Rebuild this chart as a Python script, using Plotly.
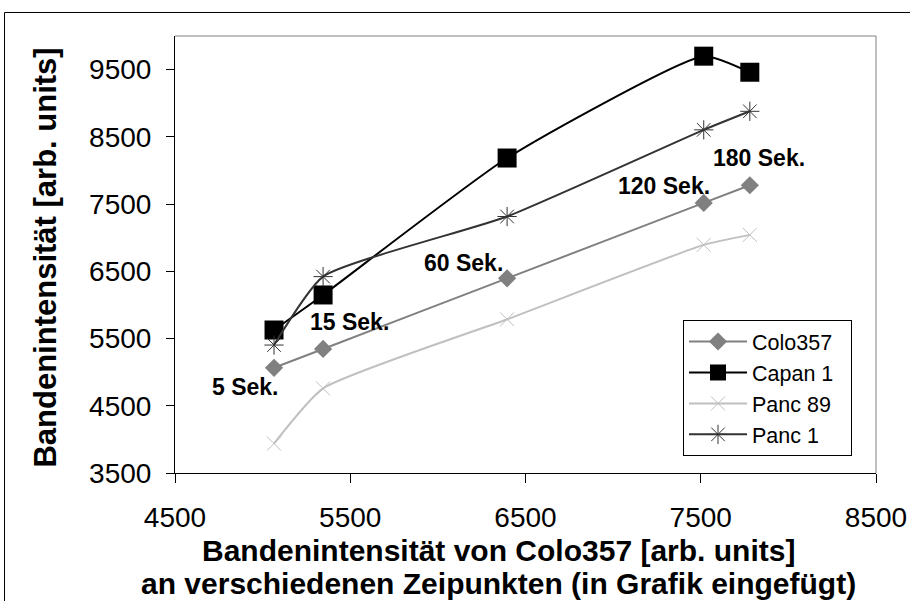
import plotly.graph_objects as go

# Data
x_colo = [5065, 5345, 6395, 7517, 7780]          # Bandenintensität von Colo357
colo357 = [5065, 5345, 6395, 7517, 7780]
capan1 = [5627, 6148, 8185, 9700, 9461]
panc89 = [3938, 4758, 5786, 6893, 7042]
panc1 = [5403, 6421, 7315, 8604, 8880]

series_names = ["Colo357", "Capan 1", "Panc 89", "Panc 1"]

time_labels = ["5 Sek.", "15 Sek.", "60 Sek.", "120 Sek.", "180 Sek."]
label_x = [4901, 5494, 6145, 7288, 7833]
label_y = [4782, 5750, 6625, 7762, 8186]

x_ticks = [4500, 5500, 6500, 7500, 8500]
y_ticks = [3500, 4500, 5500, 6500, 7500, 8500, 9500]

x_title_1 = "Bandenintensität von Colo357 [arb. units]"
x_title_2 = "an verschiedenen Zeipunkten (in Grafik eingefügt)"
y_title = "Bandenintensität [arb. units]"

FONT = "Liberation Sans, Arial, sans-serif"
SMOOTH = 0.5
PAD = "\u00a0\u00a0"  # invisible padding so the legend box matches the reference width

fig = go.Figure()

fig.add_trace(go.Scatter(
    x=x_colo, y=colo357, name=series_names[0] + PAD, mode="lines+markers",
    line=dict(color="#808080", width=2, shape="spline", smoothing=SMOOTH),
    marker=dict(symbol="diamond", size=14, color="#808080")))
fig.add_trace(go.Scatter(
    x=x_colo, y=capan1, name=series_names[1] + PAD, mode="lines+markers",
    line=dict(color="#000000", width=2, shape="spline", smoothing=SMOOTH),
    marker=dict(symbol="square", size=19, color="#000000")))
fig.add_trace(go.Scatter(
    x=x_colo, y=panc89, name=series_names[2] + PAD, mode="lines+markers",
    line=dict(color="#C0C0C0", width=2, shape="spline", smoothing=SMOOTH),
    marker=dict(symbol="x-thin-open", size=14, color="#C0C0C0",
                line=dict(color="#C0C0C0", width=1))))
fig.add_trace(go.Scatter(
    x=x_colo, y=panc1, name=series_names[3] + PAD, mode="lines+markers",
    line=dict(color="#333333", width=2, shape="spline", smoothing=SMOOTH),
    marker=dict(symbol="asterisk-open", size=16, color="#333333",
                line=dict(color="#333333", width=1))))

for t, lx, ly in zip(time_labels, label_x, label_y):
    fig.add_annotation(x=lx, y=ly, text=t, showarrow=False,
                       font=dict(family=FONT, size=23, color="black", weight="bold"))

title_font = dict(family=FONT, size=30, color="black", weight="bold")
fig.add_annotation(xref="paper", yref="paper", x=0.461, y=-0.178, text=x_title_1,
                   showarrow=False, xanchor="center", yanchor="middle", font=title_font)
fig.add_annotation(xref="paper", yref="paper", x=0.461, y=-0.253, text=x_title_2,
                   showarrow=False, xanchor="center", yanchor="middle", font=title_font)
fig.add_annotation(xref="paper", yref="paper", x=-0.184, y=0.493, text=y_title,
                   textangle=-90, showarrow=False, xanchor="center", yanchor="middle",
                   font=dict(family=FONT, size=31, color="black", weight="bold"))

# outer frame
fig.add_shape(type="rect", xref="paper", yref="paper",
              x0=-0.2432, x1=1.06, y0=-0.35, y1=1.0538,
              line=dict(color="black", width=1))
# plot-area top and right borders (gray)
fig.add_shape(type="line", xref="paper", yref="paper", x0=0, x1=1, y0=1, y1=1,
              line=dict(color="#808080", width=1))
fig.add_shape(type="line", xref="paper", yref="paper", x0=1, x1=1, y0=0, y1=1,
              line=dict(color="#808080", width=1))

fig.update_layout(
    width=910, height=601,
    margin=dict(l=175, r=34, t=36, b=128),
    paper_bgcolor="white", plot_bgcolor="white",
    font=dict(family=FONT, color="black"),
    showlegend=True,
    legend=dict(x=0.7247, y=0.350, xanchor="left", yanchor="top",
                bordercolor="black", borderwidth=1, bgcolor="white",
                font=dict(family=FONT, size=21.5, color="black"),
                tracegroupgap=0, itemwidth=58),
    xaxis=dict(range=[4500, 8500], tickvals=x_ticks, ticktext=[str(v) for v in x_ticks],
               showgrid=False, zeroline=False, showline=True, linecolor="black", linewidth=1,
               ticks="outside", ticklen=9, tickcolor="black",
               ticklabelstandoff=10, automargin=False,
               tickfont=dict(family=FONT, size=28, color="black")),
    yaxis=dict(range=[3500, 10000], tickvals=y_ticks, ticktext=[str(v) for v in y_ticks],
               showgrid=False, zeroline=False, showline=True, linecolor="black", linewidth=1,
               ticks="outside", ticklen=8, tickcolor="black",
               ticklabelstandoff=9, automargin=False,
               tickfont=dict(family=FONT, size=28, color="black")),
)

fig.write_html("out.html", config={"displayModeBar": False},
               post_script="document.body.style.margin='0';document.body.style.overflow='hidden';")
